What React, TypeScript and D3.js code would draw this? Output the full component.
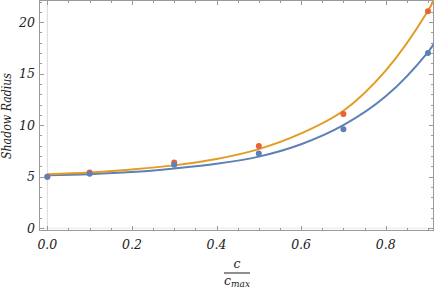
import React, { useEffect, useRef } from "react";
import * as d3 from "d3";

// measured points (c / c_max, shadow radius)
const pointX = [0, 0.1, 0.3, 0.5, 0.7, 0.9];
const blueVals = [5.0, 5.28, 6.15, 7.25, 9.6, 17.0];
const orangeVals = [5.0, 5.4, 6.38, 7.98, 11.08, 21.05];

// fitted curves
const curveX = [0, 0.1, 0.2, 0.3, 0.4, 0.5, 0.6, 0.7, 0.8, 0.9, 0.92];
const blueFit = [5.15, 5.25, 5.45, 5.8, 6.25, 6.95, 8.15, 10.0, 12.8, 17.1, 18.3];
const orangeFit = [5.25, 5.4, 5.7, 6.1, 6.72, 7.68, 9.2, 11.4, 15.3, 21.1, 22.7];

const xTicks = [0, 0.2, 0.4, 0.6, 0.8];
const yTicks = [0, 5, 10, 15, 20];

const BLUE = "#5e81b5";
const ORANGE = "#e19c24";
const RED = "#eb6235";

export default function App() {
  const ref = useRef<SVGSVGElement>(null);
  const width = 436;
  const height = 289;

  useEffect(() => {
    const svg = d3.select(ref.current);
    svg.selectAll("*").remove();

    const left = 39.5, right = 433.5, top = 0.5, bottom = 230.5;
    const x = d3.scaleLinear().domain([-0.0185, 0.913]).range([left, right]);
    const y = d3.scaleLinear().domain([-0.22, 22.1]).range([bottom, top]);

    svg.append("defs").append("clipPath").attr("id", "clip")
      .append("rect").attr("x", left).attr("y", top)
      .attr("width", right - left).attr("height", bottom - top);

    // origin lines
    svg.append("line").attr("x1", x(0)).attr("x2", x(0)).attr("y1", top).attr("y2", bottom)
      .attr("stroke", "#d9d9d9").attr("stroke-width", 1);
    svg.append("line").attr("x1", left).attr("x2", right).attr("y1", y(0)).attr("y2", y(0))
      .attr("stroke", "#e6e6e6").attr("stroke-width", 1);

    // frame
    svg.append("rect").attr("x", left).attr("y", top)
      .attr("width", right - left).attr("height", bottom - top)
      .attr("fill", "none").attr("stroke", "#9a9a9a").attr("stroke-width", 1);

    const tickG = svg.append("g").attr("stroke", "#9a9a9a").attr("stroke-width", 1);
    const xMinor = d3.range(0, 0.92, 0.05);
    xMinor.forEach((v) => {
      const major = xTicks.some((t) => Math.abs(t - v) < 1e-6);
      const len = major ? 4.5 : 2.5;
      const px = Math.round(x(v)) + 0.5;
      tickG.append("line").attr("x1", px).attr("x2", px).attr("y1", bottom).attr("y2", bottom - len);
      tickG.append("line").attr("x1", px).attr("x2", px).attr("y1", top).attr("y2", top + len);
    });
    d3.range(0, 23, 1).forEach((v) => {
      const major = v % 5 === 0;
      const len = major ? 4.5 : 2.5;
      const py = Math.round(y(v)) + 0.5;
      if (py < top || py > bottom) return;
      tickG.append("line").attr("y1", py).attr("y2", py).attr("x1", left).attr("x2", left + len);
      tickG.append("line").attr("y1", py).attr("y2", py).attr("x1", right).attr("x2", right - len);
    });

    const txt = svg.append("g")
      .attr("font-family", "DejaVu Serif")
      .attr("font-style", "italic")
      .attr("font-size", 12.5)
      .attr("fill", "#222");

    // tick labels
    txt.append("g").selectAll("text").data(xTicks).join("text")
      .attr("x", (d) => x(d)).attr("y", 249)
      .attr("text-anchor", "middle")
      .text((d) => d3.format(".1f")(d));
    txt.append("g").selectAll("text").data(yTicks).join("text")
      .attr("x", 35).attr("y", (d) => y(d) + 4.5)
      .attr("text-anchor", "end")
      .text((d) => String(d));

    // axis labels
    txt.append("text")
      .attr("transform", `translate(11,116) rotate(-90)`)
      .attr("text-anchor", "middle")
      .attr("textLength", 86)
      .attr("lengthAdjust", "spacingAndGlyphs")
      .text("Shadow Radius");

    const fx = 237;
    txt.append("text").attr("x", fx).attr("y", 268).attr("text-anchor", "middle").text("c");
    svg.append("line").attr("x1", fx - 13).attr("x2", fx + 13).attr("y1", 273).attr("y2", 273)
      .attr("stroke", "#444").attr("stroke-width", 1.2);
    const cm = txt.append("text").attr("x", fx).attr("y", 285).attr("text-anchor", "middle");
    cm.append("tspan").text("c");
    cm.append("tspan").attr("font-size", 9).attr("dy", 2).text("max");

    // fitted curves
    const plot = svg.append("g").attr("clip-path", "url(#clip)");
    const line = d3.line<number>()
      .x((_, i) => x(curveX[i]))
      .y((d) => y(d))
      .curve(d3.curveCatmullRom.alpha(0.5));

    plot.append("path").attr("d", line(blueFit)).attr("fill", "none")
      .attr("stroke", BLUE).attr("stroke-width", 2);
    plot.append("path").attr("d", line(orangeFit)).attr("fill", "none")
      .attr("stroke", ORANGE).attr("stroke-width", 2);

    // points
    plot.append("g").selectAll("circle").data(orangeVals).join("circle")
      .attr("cx", (_, i) => x(pointX[i])).attr("cy", (d) => y(d)).attr("r", 3)
      .attr("fill", RED);
    plot.append("g").selectAll("circle").data(blueVals).join("circle")
      .attr("cx", (_, i) => x(pointX[i])).attr("cy", (d) => y(d)).attr("r", 3)
      .attr("fill", BLUE);
  }, []);

  return (
    <svg ref={ref} width={width} height={height}
      style={{ position: "absolute", left: 0, top: 0, background: "#fff" }} />
  );
}
